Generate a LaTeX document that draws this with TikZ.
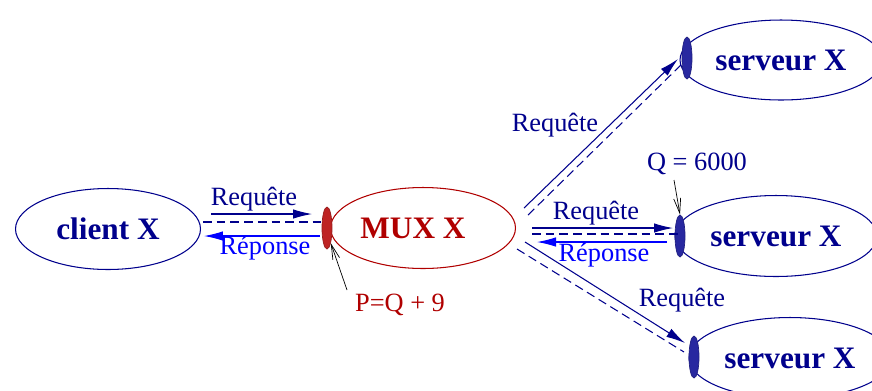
\documentclass[tikz,border=0pt]{standalone}
\usepackage{fontspec}
\setmainfont{Liberation Serif}
\usetikzlibrary{positioning, shapes.geometric, arrows.meta}

\definecolor{navyx}{RGB}{0,0,140}
\definecolor{portblue}{RGB}{40,40,160}
\definecolor{redx}{RGB}{176,0,0}
\definecolor{portred}{RGB}{190,35,35}

\tikzset{
    hote/.style={ellipse, draw=navyx, line width=0.6pt, minimum width=3.7cm, minimum height=1.62cm, text=navyx, font=\fontsize{17.8}{20}\selectfont\bfseries},
    port/.style={ellipse, draw=#1!80!black, fill=#1, line width=0.4pt, minimum width=0.2cm, minimum height=0.84cm, inner sep=0pt},
    req/.style={navyx, line width=0.6pt, -{Latex[length=0.38cm, width=0.19cm]}},
    rep/.style={blue, line width=0.6pt, -{Latex[length=0.38cm, width=0.19cm]}},
    trace/.style={navyx, line width=0.6pt, dash pattern=on 5pt off 2.8pt},
    etiq/.style={font=\fontsize{15}{17}\selectfont, text=navyx, inner sep=0pt},
    fleche/.style={black, line width=0.4pt, -{Straight Barb[length=0.3cm, width=0.14cm]}}
}

\begin{document}
\begin{tikzpicture}[x=0.02cm, y=-0.02cm]
        \useasboundingbox (0,0) rectangle (872,390);
        \clip (0,0) rectangle (872,390);
        % hotes
        \node[hote] (client) at (108,229) {client X};
        \node[hote, draw=redx, text=redx] (mux) at (423,228) {\hspace*{-0.4cm}MUX X};
        \node[hote, minimum width=3.64cm, minimum height=1.6cm] (serv1) at (781,60) {serveur X};
        \node[hote] (serv2) at (776,236) {serveur X};
        \node[hote] (serv3) at (790,358) {serveur X};
        % ports
        \node[port=portred] (pmux) at (327,228) {};
        \node[port=portblue] (pserv1) at (687,58) {};
        \node[port=portblue] (pserv2) at (680,236) {};
        \node[port=portblue] (pserv3) at (694,357) {};
        % client <-> mux
        \coordinate (c1) at (211,214);
        \coordinate (m1) at (312,214);
        \coordinate (c2) at (203,222);
        \coordinate (m2) at (322,222);
        \coordinate (c3) at (204,236);
        \coordinate (m3) at (320,236);
        \draw[req] (c1) -- (m1);
        \draw[trace] (c2) -- (m2);
        \draw[rep] (m3) -- (c3);
        \node[etiq] (lreq1) at (254,199) {Requête};
        \node[etiq, text=blue] (lrep1) at (265,248) {Réponse};
        % mux -> serveur haut
        \coordinate (a1) at (524,208);
        \coordinate (b1) at (678,59);
        \coordinate (a2) at (528,215);
        \coordinate (b2) at (684,62);
        \draw[req] (a1) -- (b1);
        \draw[trace] (a2) -- (b2);
        \node[etiq] (lreq2) at (555,125) {Requête};
        % mux <-> serveur milieu
        \coordinate (a3) at (532,228);
        \coordinate (b3) at (673,228);
        \coordinate (a4) at (532,234);
        \coordinate (b4) at (680,234);
        \coordinate (a5) at (537,242);
        \coordinate (b5) at (667,242);
        \draw[req] (a3) -- (b3);
        \draw[trace] (a4) -- (b4);
        \draw[rep] (b5) -- (a5);
        \node[etiq] (lreq3) at (596,213) {Requête};
        \node[etiq, text=blue] (lrep3) at (604,255) {Réponse};
        % mux -> serveur bas
        \coordinate (a6) at (525,242);
        \coordinate (b6) at (685,343);
        \coordinate (a7) at (517,249);
        \coordinate (b7) at (684,352);
        \draw[req] (a6) -- (b6);
        \draw[trace] (a7) -- (b7);
        \node[etiq] (lreq4) at (682,300) {Requête};
        % numeros de port
        \node[etiq] (qval) at (697,164) {Q = 6000};
        \coordinate (q0) at (674,180);
        \draw[fleche] (q0) -- (pserv2.north);
        \node[etiq, text=redx] (pval) at (400,305) {P=Q + 9};
        \coordinate (p0) at (347,290);
        \draw[fleche] (p0) -- (pmux.south east);
    \end{tikzpicture}
\end{document}
